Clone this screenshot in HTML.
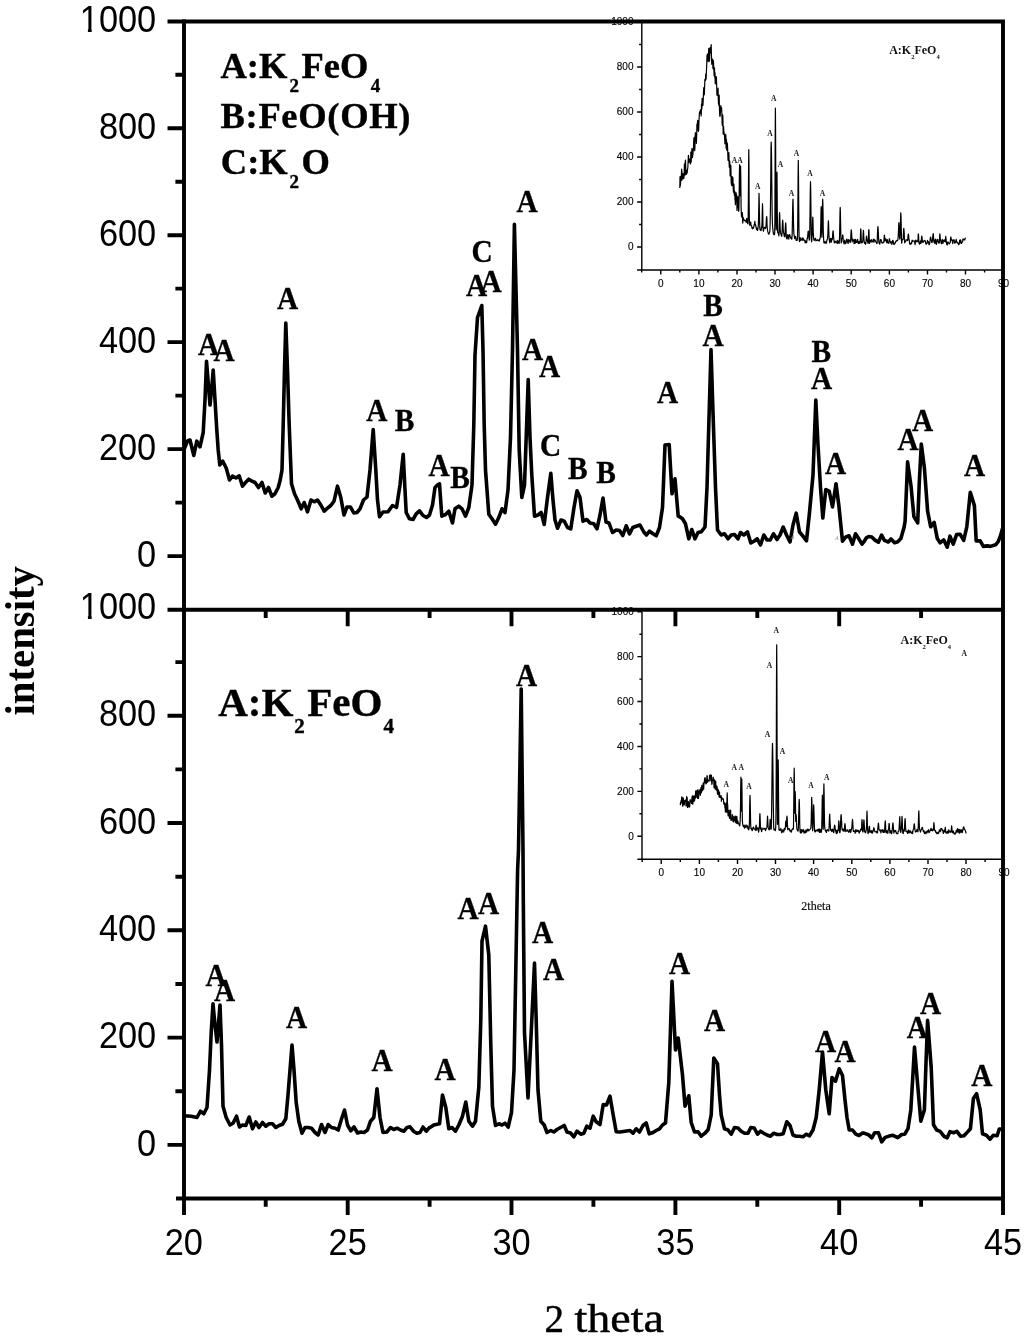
<!DOCTYPE html>
<html lang="en"><head><meta charset="utf-8"><title>XRD patterns</title>
<style>html,body{margin:0;padding:0;background:#fff}svg{display:block}.sans{font-family:"Liberation Sans",Arial,sans-serif}.serif{font-family:"Liberation Serif","Times New Roman",serif}.b{font-weight:bold}</style></head><body>
<svg width="1024" height="1337" viewBox="0 0 1024 1337">
<rect width="1024" height="1337" fill="#fff"/>
<g stroke="#000" stroke-width="1.4" fill="none">
<path d="M641.8 22V270H1003"/>
<path d="M637.1 247H641.8M639.1 224.5H641.8M637.1 202H641.8M639.1 179.5H641.8M637.1 157H641.8M639.1 134.5H641.8M637.1 112H641.8M639.1 89.5H641.8M637.1 67H641.8M639.1 44.5H641.8M637.1 22H641.8M637.1 270H641.8M641.7 270V272.6M660.8 270V274.6M679.8 270V272.6M698.9 270V274.6M717.9 270V272.6M737 270V274.6M756 270V272.6M775 270V274.6M794.1 270V272.6M813.1 270V274.6M832.2 270V272.6M851.2 270V274.6M870.3 270V272.6M889.4 270V274.6M908.4 270V272.6M927.5 270V274.6M946.5 270V272.6M965.5 270V274.6M984.6 270V272.6M1003.6 270V274.6"/>
</g>
<g class="sans" font-size="10" fill="#000" stroke="#000" stroke-width="0.12">
<text x="633.5" y="250.4" text-anchor="end">0</text>
<text x="633.5" y="205.4" text-anchor="end">200</text>
<text x="633.5" y="160.4" text-anchor="end">400</text>
<text x="633.5" y="115.4" text-anchor="end">600</text>
<text x="633.5" y="70.4" text-anchor="end">800</text>
<text x="633.5" y="25.4" text-anchor="end">1000</text>
<text x="660.8" y="287" text-anchor="middle">0</text>
<text x="698.9" y="287" text-anchor="middle">10</text>
<text x="737" y="287" text-anchor="middle">20</text>
<text x="775" y="287" text-anchor="middle">30</text>
<text x="813.1" y="287" text-anchor="middle">40</text>
<text x="851.2" y="287" text-anchor="middle">50</text>
<text x="889.4" y="287" text-anchor="middle">60</text>
<text x="927.5" y="287" text-anchor="middle">70</text>
<text x="965.5" y="287" text-anchor="middle">80</text>
<text x="1003.6" y="287" text-anchor="middle">90</text>
</g>
<path d="M679.8 188.1L680 177.2L680.2 176.3L680.4 185.6L680.6 181.1L680.8 179.4L680.9 180.6L681.1 180.8L681.3 178L681.5 172.4L681.7 169.2L681.9 171.7L682.1 179.9L682.3 174.8L682.5 174.2L682.7 178.1L682.8 174.6L683 173.7L683.2 175.3L683.4 177.7L683.6 178.7L683.8 178.4L684 177.5L684.2 172.6L684.4 163.9L684.6 168.5L684.8 172.2L684.9 175.2L685.1 166.6L685.3 161.5L685.5 160.1L685.7 166.3L685.9 171.1L686.1 174.4L686.3 173.4L686.5 173.3L686.7 174L686.8 170.5L687 170L687.2 172.6L687.4 170.3L687.6 168.9L687.8 168.2L688 163.9L688.2 159.7L688.4 155.4L688.6 156.6L688.8 159L688.9 162.5L689.1 162.1L689.3 160.9L689.5 159.1L689.7 160.4L689.9 161.1L690.1 161.1L690.3 163.9L690.5 163.8L690.7 160.7L690.8 152L691 152.4L691.2 162.1L691.4 157.1L691.6 153.6L691.8 151.6L692 148.3L692.2 150.3L692.4 157.6L692.6 156.1L692.8 155L692.9 154.4L693.1 151.8L693.3 149.7L693.5 148.3L693.7 141.3L693.9 138L694.1 138.4L694.3 137.3L694.5 141.4L694.7 150.7L694.8 149.7L695 144.7L695.2 135.7L695.4 132.6L695.6 133.2L695.8 137.4L696 135.2L696.2 137.1L696.4 143.3L696.6 137.8L696.8 131.3L696.9 124L697.1 124.4L697.3 124L697.5 122.6L697.7 120.3L697.9 123L698.1 130.7L698.3 131.4L698.5 131L698.7 129.5L698.9 124.1L699 120L699.2 117.1L699.4 113L699.6 111.8L699.8 113.5L700 113.5L700.2 112.2L700.4 109.9L700.6 112.6L700.8 112.9L700.9 110.8L701.1 116L701.3 113.7L701.5 103.8L701.7 109.4L701.9 107.6L702.1 98.4L702.3 100.8L702.5 102.7L702.7 105.1L702.9 105.5L703 104.1L703.2 100.8L703.4 94.5L703.6 90.1L703.8 87.6L704 92.9L704.2 94.9L704.4 93.7L704.6 86.5L704.8 81.7L704.9 79.3L705.1 79.9L705.3 80.3L705.5 80.6L705.7 74.3L705.9 73.9L706.1 79.2L706.3 74L706.5 69.6L706.7 65.9L706.9 58.2L707 55.4L707.2 57.4L707.4 53.9L707.6 54.3L707.8 58.6L708 60.9L708.2 61.6L708.4 60.8L708.6 51.6L708.8 48.3L708.9 50.7L709.1 54.9L709.3 58.3L709.5 61.1L709.7 54.8L709.9 50.2L710.1 47.5L710.3 49.9L710.5 51.8L710.7 53.1L710.9 49.4L711 46.6L711.2 44.7L711.4 54.3L711.6 60.8L711.8 64.3L712 61.9L712.2 60.8L712.4 61L712.6 59L712.8 61.6L712.9 68.6L713.1 62.6L713.3 60.5L713.5 62.4L713.7 66.4L713.9 70.8L714.1 75.6L714.3 67.6L714.5 68.2L714.7 77.3L714.9 72.4L715 74.1L715.2 82.4L715.4 83.8L715.6 81.9L715.8 76.6L716 83.5L716.2 83.6L716.4 76.9L716.6 83.7L716.8 89.5L716.9 94.4L717.1 95.3L717.3 95.1L717.5 94L717.7 92.3L717.9 90.4L718.1 88.2L718.3 99.1L718.5 103.7L718.7 101.9L718.9 105.4L719 103.1L719.2 95.2L719.4 106.5L719.6 113.2L719.8 115.6L720 116.5L720.2 115.4L720.4 112.5L720.6 107.4L720.8 105.5L720.9 106.7L721.1 109.5L721.3 109.8L721.5 107.7L721.7 109.5L721.9 114.5L722.1 122.7L722.3 125.5L722.5 122.8L722.7 114.8L722.9 118.1L723 124.6L723.2 134.2L723.4 127.6L723.6 126.5L723.8 130.9L724 132L724.2 133.3L724.4 134.8L724.6 137.8L724.8 140.8L724.9 143.8L725.1 141.5L725.3 140.4L725.5 140.5L725.7 134.3L725.9 136.7L726.1 147.9L726.3 139.1L726.5 139.9L726.7 150.2L726.9 149.7L727 147.3L727.2 142.9L727.4 144.2L727.6 147.8L727.8 153.7L728 159.6L728.2 160.6L728.4 156.8L728.6 159.2L728.8 157.8L728.9 152.5L729.1 162.5L729.3 167.1L729.5 166.3L729.7 161.2L729.9 164.3L730.1 175.9L730.3 172.4L730.5 168.9L730.7 165.2L730.9 166.9L731 172.7L731.2 182.6L731.4 183.8L731.6 184.8L731.8 185.6L732 176.5L732.2 176.5L732.4 185.6L732.6 180.9L732.8 178.2L732.9 177.5L733.1 185.4L733.3 190.3L733.5 192.2L733.7 185.1L733.9 184.2L734.1 189.5L734.3 194.9L734.5 195.4L734.7 191.1L734.9 196.5L735 199.7L735.2 200.8L735.4 204.6L735.6 202.3L735.8 193.9L736 192.5L736.2 193.8L736.4 197.8L736.6 194.6L736.8 198.9L737 210.5L737.1 208.5L737.3 206.4L737.5 204.1L737.7 198.9L737.9 196.6L738.1 197.2L738.3 204.6L738.5 209.4L738.7 211.3L738.9 209L739 204.3L739.2 192.7L739.4 173.2L739.6 164.7L739.8 178.4L740 193.7L740.2 195.8L740.4 177.5L740.6 166.1L740.8 177.9L741 197.6L741.1 206.9L741.3 212.3L741.5 216.4L741.7 217L741.9 217.2L742.1 217.1L742.3 212.5L742.5 214.4L742.7 223.1L742.9 221.9L743 217.3L743.2 217.3L743.4 218.2L743.6 219.1L743.8 219.7L744 220L744.2 220.4L744.4 220.3L744.6 220.2L744.8 220.3L745 220.6L745.1 221L745.3 220.8L745.5 220.4L745.7 220.4L745.9 221.4L746.1 222.4L746.3 221.8L746.5 220.1L746.7 218.4L746.9 219.3L747 220.1L747.2 221.1L747.4 222.3L747.6 223.6L747.8 223.7L748 222.5L748.2 216.2L748.4 196.3L748.6 165.9L748.8 149.5L749 166.2L749.1 196.9L749.3 217.3L749.5 224.3L749.7 225.3L749.9 223.9L750.1 222.5L750.3 222.1L750.5 222L750.7 222.1L750.9 223.5L751 224.9L751.2 225.5L751.4 225.7L751.6 225.8L751.8 226.9L752 228L752.2 228.7L752.4 228.7L752.6 228.8L752.8 228.4L753 227.9L753.1 227.5L753.3 227.8L753.5 228L753.7 227.4L753.9 226.1L754.1 224.6L754.3 225.1L754.5 224.3L754.7 222.4L754.9 221.3L755 223.1L755.2 224.6L755.4 224.9L755.6 224.5L755.8 225.8L756 226.9L756.2 227.9L756.4 228.8L756.6 229.7L756.8 228.9L757 228L757.1 228L757.3 229.2L757.5 230.5L757.7 229.8L757.9 228.7L758.1 227.5L758.3 225.3L758.5 220L758.7 211.6L758.9 199.2L759 193.3L759.2 199.6L759.4 212.4L759.6 222L759.8 227.4L760 229.6L760.2 229.9L760.4 229.8L760.6 229.7L760.8 230.2L761 230.7L761.1 230.2L761.3 228.8L761.5 227.5L761.7 227.7L761.9 226.2L762.1 220L762.3 209.5L762.5 203.6L762.7 209.6L762.9 220.5L763 228.1L763.2 230.5L763.4 231.2L763.6 230.6L763.8 229.3L764 228.1L764.2 227.7L764.4 227.4L764.6 227.3L764.8 227.7L765 228.1L765.1 228.3L765.3 228.4L765.5 228.5L765.7 228.1L765.9 227L766.1 224.7L766.3 220.9L766.5 217.8L766.7 216.5L766.9 218.8L767 224L767.2 227.5L767.4 229.4L767.6 230.7L767.8 231.5L768 232.1L768.2 232.9L768.4 233.7L768.6 234.1L768.8 234.1L769 234.2L769.1 233.6L769.3 233.1L769.5 232.6L769.7 232L769.9 230.2L770.1 225.1L770.3 216L770.5 202L770.7 183.3L770.9 163.1L771 147.6L771.2 142L771.4 148.6L771.6 164L771.8 183.6L772 201.9L772.2 215.6L772.4 222.4L772.6 226.8L772.8 228.8L773 229.9L773.1 231.5L773.3 233L773.5 233.8L773.7 234.2L773.9 234.6L774.1 234.6L774.3 234.6L774.5 234.5L774.7 232.7L774.9 221.2L775 188.5L775.2 136.4L775.4 108.1L775.6 136.1L775.8 187.9L776 220.4L776.2 229.8L776.4 225.2L776.6 210.8L776.8 185.6L777 172.1L777.1 186.2L777.3 211.9L777.5 227.7L777.7 232.5L777.9 233.1L778.1 232.9L778.3 232.7L778.5 233.5L778.7 235.1L778.9 236L779.1 232L779.2 224.8L779.4 216.6L779.6 212.6L779.8 216.2L780 224.2L780.2 229.3L780.4 232.4L780.6 233.3L780.8 233.5L781 234L781.1 234.7L781.3 235.3L781.5 236L781.7 236.3L781.9 235L782.1 230.8L782.3 225.9L782.5 221.6L782.7 220.1L782.9 222.4L783.1 226.6L783.2 229.9L783.4 232.1L783.6 233L783.8 233.1L784 234.5L784.2 235.9L784.4 236.7L784.6 236.8L784.8 236.7L785 235.3L785.1 232.5L785.3 227.9L785.5 224.9L785.7 222.8L785.9 225.5L786.1 231.3L786.3 236.3L786.5 238.1L786.7 238.7L786.9 238.9L787.1 238.9L787.2 238.8L787.4 237.5L787.6 235.9L787.8 234.6L788 234.9L788.2 235.1L788.4 236.1L788.6 237.7L788.8 239.2L789 237.7L789.1 236.2L789.3 235.2L789.5 234.9L789.7 234.6L789.9 235.2L790.1 235.9L790.3 236.7L790.5 237.4L790.7 238.2L790.9 238.2L791.1 237.8L791.2 237.4L791.4 238.3L791.6 239.1L791.8 239.1L792 237.3L792.2 233L792.4 222.9L792.6 211.9L792.8 202.3L793 199L793.1 203L793.3 212.2L793.5 222.5L793.7 230.4L793.9 234.1L794.1 235.3L794.3 236L794.5 237.4L794.7 238.6L794.9 238.1L795.1 237.2L795.2 236.4L795.4 236.6L795.6 236.7L795.8 237.6L796 239.1L796.2 240.5L796.4 240.4L796.6 240.4L796.8 240.3L797 240.3L797.1 240.2L797.3 239.8L797.5 237.1L797.7 226.3L797.9 203.5L798.1 174.4L798.3 160.3L798.5 174.8L798.7 204L798.9 226.4L799.1 236.7L799.2 239.6L799.4 240.8L799.6 241.6L799.8 240.4L800 238.6L800.2 237.5L800.4 238.8L800.6 240.1L800.8 240.5L801 240.3L801.1 240.1L801.3 239.9L801.5 239.7L801.7 239.2L801.9 238.5L802.1 237.8L802.3 238.6L802.5 239.6L802.7 240.3L802.9 239.2L803.1 238.1L803.2 238.2L803.4 239.1L803.6 240.1L803.8 240L804 240L804.2 239.9L804.4 240L804.6 240L804.8 240.9L805 242L805.1 242.8L805.3 241.8L805.5 240.9L805.7 240.9L805.9 241.5L806.1 242L806.3 242.4L806.5 242.8L806.7 242.3L806.9 240.4L807.1 238.3L807.2 238.3L807.4 238.4L807.6 237.5L807.8 234.7L808 232.3L808.2 231.2L808.4 231.2L808.6 232.3L808.8 234.8L809 237.1L809.1 238.9L809.3 240.1L809.5 239.3L809.7 234.4L809.9 223.3L810.1 206.4L810.3 189.2L810.5 181.6L810.7 189L810.9 206L811.1 222.6L811.2 233.7L811.4 239.8L811.6 241.8L811.8 240.5L812 237.6L812.2 233.7L812.4 227L812.6 220.2L812.8 217.2L813 220.2L813.1 226.9L813.3 233L813.5 236.2L813.7 238.7L813.9 239.9L814.1 240.3L814.3 240.3L814.5 240.1L814.7 239.8L814.9 239.3L815.1 238.9L815.2 238.6L815.4 238.2L815.6 238.7L815.8 239.8L816 240.9L816.2 240.5L816.4 240.1L816.6 240L816.8 240.2L817 240.5L817.2 240.5L817.3 240.5L817.5 240.4L817.7 240L817.9 239.6L818.1 239.8L818.3 240.4L818.5 240.9L818.7 240.7L818.9 240.6L819.1 240.5L819.2 240.6L819.4 240.8L819.6 240L819.8 238.9L820 238.1L820.2 238.1L820.4 236.6L820.6 231.2L820.8 222.3L821 211.5L821.2 206.7L821.3 211.4L821.5 222.3L821.7 232.3L821.9 237.2L822.1 229.1L822.3 217.1L822.5 204.8L822.7 199.2L822.9 204.1L823.1 216.1L823.2 227.9L823.4 234.2L823.6 239.1L823.8 241.7L824 242.9L824.2 243L824.4 243L824.6 242.5L824.8 241.8L825 241.4L825.2 242.2L825.3 243L825.5 243.2L825.7 242.8L825.9 242.4L826.1 242.8L826.3 243.2L826.5 242.9L826.7 241.5L826.9 240.2L827.1 239.7L827.2 239.5L827.4 239.1L827.6 238.1L827.8 235.2L828 230.9L828.2 223.9L828.4 220.8L828.6 224.1L828.8 231.2L829 236.2L829.2 239L829.3 239.9L829.5 241L829.7 242.2L829.9 242.8L830.1 241.1L830.3 239.5L830.5 238.7L830.7 238.5L830.9 238.3L831.1 240L831.2 241.7L831.4 242.1L831.6 240.4L831.8 238.7L832 239.1L832.2 239.6L832.4 238.8L832.6 235.8L832.8 232.7L833 231L833.2 230.8L833.3 232.6L833.5 235.8L833.7 237.9L833.9 239.5L834.1 241.3L834.3 242.9L834.5 242.7L834.7 242.1L834.9 241.6L835.1 241.4L835.2 241.2L835.4 241.4L835.6 241.8L835.8 242.2L836 242.5L836.2 242.8L836.4 242.9L836.6 242.7L836.8 242.4L837 241.6L837.2 240.7L837.3 240.3L837.5 241.9L837.7 243.5L837.9 243.4L838.1 242.2L838.3 241L838.5 241.3L838.7 241.5L838.9 242.1L839.1 242.9L839.2 243.3L839.4 240.9L839.6 234.7L839.8 223.7L840 212.6L840.2 207.4L840.4 212.3L840.6 223.2L840.8 233.1L841 239.6L841.2 242.7L841.3 243L841.5 241L841.7 238.9L841.9 238.8L842.1 238.8L842.3 238.3L842.5 236.6L842.7 234.9L842.9 235.3L843.1 237.8L843.2 241.1L843.4 242L843.6 242.5L843.8 242.8L844 243.4L844.2 244L844.4 242.8L844.6 241.1L844.8 240L845 241.1L845.2 242.3L845.3 242.9L845.5 243.3L845.7 243.6L845.9 242.9L846.1 242.3L846.3 241.4L846.5 240.3L846.7 239.2L846.9 239.2L847.1 239.4L847.2 239.8L847.4 241.1L847.6 242.3L847.8 243L848 243.2L848.2 243.5L848.4 241.7L848.6 240L848.8 239.3L849 240.1L849.2 240.9L849.3 240.8L849.5 240.5L849.7 240.5L849.9 241.6L850.1 242.6L850.3 242.2L850.5 240.6L850.7 238.4L850.9 234.3L851.1 230.9L851.2 229.8L851.4 230.9L851.6 233.4L851.8 236.9L852 240L852.2 241.9L852.4 240.9L852.6 239.4L852.8 239.2L853 240L853.2 240.7L853.3 240.3L853.5 239.9L853.7 240.3L853.9 241.9L854.1 243.6L854.3 242.5L854.5 240.8L854.7 239.7L854.9 241.5L855.1 243.3L855.3 242.9L855.4 241.1L855.6 239.3L855.8 240.3L856 241.2L856.2 241.8L856.4 242.1L856.6 242.4L856.8 242L857 241.5L857.2 241L857.3 240.2L857.5 239.3L857.7 239.9L857.9 241.3L858.1 242.8L858.3 243.1L858.5 243.5L858.7 243.3L858.9 242.4L859.1 241.5L859.3 241.8L859.4 242.5L859.6 243.1L859.8 243.3L860 243.1L860.2 241.4L860.4 237.4L860.6 231.1L860.8 228.8L861 231.3L861.2 237.8L861.3 241.3L861.5 242.7L861.7 242.9L861.9 242.8L862.1 242.6L862.3 242.6L862.5 242.6L862.7 241.5L862.9 239.1L863.1 234.8L863.3 232L863.4 230.4L863.6 232.6L863.8 236.9L864 239.7L864.2 241.6L864.4 242.7L864.6 243.3L864.8 242.9L865 242.6L865.2 242.9L865.3 243.6L865.5 244.3L865.7 243.8L865.9 242.8L866.1 240.8L866.3 237.8L866.5 236.2L866.7 237.2L866.9 239.1L867.1 239.7L867.3 240.6L867.4 241.1L867.6 241.7L867.8 242.5L868 243.3L868.2 242L868.4 238.7L868.6 232.9L868.8 229.6L869 230.8L869.2 237.2L869.3 241.6L869.5 243.4L869.7 241.9L869.9 240.3L870.1 240.2L870.3 241.1L870.5 241.9L870.7 241.8L870.9 241.7L871.1 241.3L871.3 240.5L871.4 239.7L871.6 240.4L871.8 241.4L872 242.1L872.2 241.9L872.4 241.6L872.6 241.3L872.8 240.9L873 240.5L873.2 239.8L873.3 239.1L873.5 239.3L873.7 240.8L873.9 242.2L874.1 241.6L874.3 240.5L874.5 239.7L874.7 240L874.9 240.2L875.1 240.5L875.3 240.6L875.4 240.8L875.6 241.3L875.8 241.8L876 242.2L876.2 242.3L876.4 242.4L876.6 243L876.8 243.5L877 243.6L877.2 242.2L877.3 239.2L877.5 233.2L877.7 228.6L877.9 226.6L878.1 228.1L878.3 232.1L878.5 236L878.7 239.9L878.9 242.3L879.1 243.1L879.3 243.4L879.4 243.6L879.6 243.8L879.8 244L880 243L880.2 241.3L880.4 239.6L880.6 239.5L880.8 239.5L881 239.6L881.2 240.1L881.3 240.5L881.5 241.3L881.7 242.2L881.9 242.9L882.1 243L882.3 243.1L882.5 243L882.7 242.9L882.9 242.8L883.1 242.4L883.3 242.1L883.4 242.1L883.6 242.5L883.8 242.3L884 239.9L884.2 236.7L884.4 235L884.6 236.7L884.8 239.7L885 240.9L885.2 240.2L885.3 238.9L885.5 238.9L885.7 238.9L885.9 239.2L886.1 240.2L886.3 241.2L886.5 241.9L886.7 242.6L886.9 242.8L887.1 241.2L887.3 239.6L887.4 239.8L887.6 241.3L887.8 242.7L888 242.6L888.2 242.5L888.4 242.7L888.6 243.2L888.8 243.3L889 241.8L889.2 239.8L889.4 238.7L889.5 238.9L889.7 239.8L889.9 240.7L890.1 241.3L890.3 241.5L890.5 242.3L890.7 243L890.9 243.1L891.1 242.4L891.3 241.8L891.4 242.5L891.6 243.6L891.8 244.4L892 243.7L892.2 242.6L892.4 241.6L892.6 240.7L892.8 240.4L893 240.4L893.2 241L893.4 242L893.5 243.2L893.7 244.2L893.9 244.4L894.1 244.4L894.3 244.3L894.5 243.7L894.7 243.1L894.9 242.9L895.1 243.1L895.3 243.2L895.4 242.4L895.6 241.7L895.8 241.2L896 241.4L896.2 241.5L896.4 241.1L896.6 240.6L896.8 240.3L897 240.5L897.2 240.7L897.4 240.7L897.5 240.5L897.7 240.3L897.9 239.4L898.1 237.5L898.3 234.2L898.5 230.2L898.7 224.9L898.9 222.6L899.1 225.1L899.3 230.7L899.4 235.3L899.6 237.3L899.8 239.1L900 238.7L900.2 235.4L900.4 225.5L900.6 216.7L900.8 212.8L901 216.5L901.2 224.9L901.4 233.6L901.5 240.1L901.7 243.1L901.9 242L902.1 240.4L902.3 239.7L902.5 239.5L902.7 239.3L902.9 239.6L903.1 239.2L903.3 237.2L903.4 233.3L903.6 230.1L903.8 228.4L904 230L904.2 232.8L904.4 238L904.6 241.8L904.8 242.9L905 242.4L905.2 241.6L905.4 241.6L905.5 241.7L905.7 241.4L905.9 240.7L906.1 239.9L906.3 239.8L906.5 239.9L906.7 239.9L906.9 239.9L907.1 239.8L907.3 240.1L907.4 240.5L907.6 240.6L907.8 238.8L908 236.4L908.2 234.4L908.4 234.1L908.6 235.4L908.8 237.2L909 238.9L909.2 240.2L909.4 241.7L909.5 242.9L909.7 243.6L909.9 244L910.1 244.5L910.3 244.3L910.5 244L910.7 243.7L910.9 243.2L911.1 242.7L911.3 243L911.4 243.6L911.6 243.7L911.8 242.1L912 240.5L912.2 240.2L912.4 240.8L912.6 241.4L912.8 241.3L913 241.1L913.2 241L913.4 241L913.5 241L913.7 240.9L913.9 240.8L914.1 240.8L914.3 241.2L914.5 241.7L914.7 242.5L914.9 243.6L915.1 244.7L915.3 242.9L915.4 241.1L915.6 240.1L915.8 240.2L916 240.3L916.2 240.8L916.4 241.3L916.6 241.8L916.8 241.7L917 241.6L917.2 241.4L917.4 241.1L917.5 240.8L917.7 241.7L917.9 241.1L918.1 237.6L918.3 233.9L918.5 234.6L918.7 238.9L918.9 241.9L919.1 243.3L919.3 243.7L919.4 244.1L919.6 244L919.8 243.6L920 243.2L920.2 242.1L920.4 241.1L920.6 240.9L920.8 242.1L921 243.3L921.2 242.3L921.4 240.3L921.5 237.5L921.7 236L921.9 236.4L922.1 238.6L922.3 240.5L922.5 241.8L922.7 242.1L922.9 242.4L923.1 242.4L923.3 242.2L923.4 242L923.6 241.6L923.8 241.1L924 240.7L924.2 240.5L924.4 240.3L924.6 240.5L924.8 240.8L925 241.1L925.2 241.1L925.4 241L925.5 241.5L925.7 242.8L925.9 244.1L926.1 244.2L926.3 244L926.5 243.9L926.7 243.6L926.9 243.4L927.1 242.6L927.3 241.5L927.5 240.4L927.6 241.4L927.8 242.4L928 242.8L928.2 242.2L928.4 241.6L928.6 242.5L928.8 243.7L929 244.7L929.2 244.6L929.4 244.4L929.5 244L929.7 243.2L929.9 242.1L930.1 240.1L930.3 238L930.5 237L930.7 237.4L930.9 238.5L931.1 239.6L931.3 240.4L931.5 240.9L931.6 241.9L931.8 242.7L932 242.6L932.2 241.6L932.4 240.1L932.6 238.5L932.8 236.4L933 234.5L933.2 233.7L933.4 234.5L933.5 237.1L933.7 240.1L933.9 242.1L934.1 241.3L934.3 240.1L934.5 240.5L934.7 242.1L934.9 243.6L935.1 241.9L935.3 240.1L935.5 239.1L935.6 239.2L935.8 239.3L936 241L936.2 243.1L936.4 244.5L936.6 243.5L936.8 242.5L937 241.6L937.2 240.8L937.4 240L937.5 239.7L937.7 239.4L937.9 239.6L938.1 240.8L938.3 242L938.5 242.5L938.7 242.9L938.9 243.2L939.1 243.2L939.3 242.9L939.5 240.8L939.6 237.4L939.8 233.9L940 234.8L940.2 237.2L940.4 239.7L940.6 240.6L940.8 240.9L941 242L941.2 243.2L941.4 243.8L941.5 243L941.7 242.1L941.9 241.2L942.1 240.2L942.3 239.3L942.5 241.1L942.7 243L942.9 243.5L943.1 241.9L943.3 240.4L943.5 240.6L943.6 241.3L943.8 241.7L944 240.9L944.2 240L944.4 239.9L944.6 240.3L944.8 240.6L945 241.4L945.2 241.9L945.4 240.9L945.5 238.4L945.7 236.4L945.9 237.3L946.1 239.3L946.3 241.2L946.5 242.9L946.7 244.2L946.9 244.7L947.1 244.8L947.3 244.9L947.5 243.8L947.6 242.7L947.8 242L948 242.1L948.2 242.2L948.4 242.5L948.6 242.8L948.8 243.2L949 243.6L949.2 243.9L949.4 243.8L949.5 243.3L949.7 242.9L949.9 242.9L950.1 242.8L950.3 242L950.5 239.9L950.7 237.3L950.9 237L951.1 238.3L951.3 240.1L951.5 239.9L951.6 239.7L951.8 239.8L952 240L952.2 240L952.4 241.6L952.6 243.2L952.8 243.5L953 241.7L953.2 239.9L953.4 239.9L953.5 240.4L953.7 240.7L953.9 240.2L954.1 239.8L954.3 240.5L954.5 241.8L954.7 243.2L954.9 243L955.1 242.9L955.3 242.7L955.5 242.7L955.6 242.6L955.8 241.5L956 240.2L956.2 239.3L956.4 240.2L956.6 241.1L956.8 241.8L957 242.3L957.2 242.8L957.4 242.7L957.5 242.5L957.7 242.6L957.9 242.9L958.1 243.3L958.3 243.7L958.5 244.2L958.7 244.6L958.9 244.5L959.1 244.4L959.3 243.4L959.5 241.7L959.6 240.1L959.8 241.3L960 242.5L960.2 242.7L960.4 241.2L960.6 239.8L960.8 240.7L961 242.3L961.2 243.5L961.4 243.4L961.5 243.4L961.7 243.1L961.9 242.5L962.1 241.8L962.3 242L962.5 241.6L962.7 240.4L962.9 239.2L963.1 239.5L963.3 239.9L963.5 239.7L963.6 239.2L963.8 239.5L964 239.7L964.2 239.9L964.4 240L964.6 240L964.8 239.8L965 238.9L965.2 238.1L965.4 238.2L965.5 238.9" fill="none" stroke="#000" stroke-width="1.2" stroke-linejoin="round"/>
<g class="serif b" font-size="7.6" fill="#222" text-anchor="middle">
<text x="773.8" y="100.6">A</text>
<text x="770" y="135.6">A</text>
<text x="734.5" y="163.1">A</text>
<text x="740" y="163.1">A</text>
<text x="757.8" y="188.8">A</text>
<text x="780.5" y="167.1">A</text>
<text x="796.5" y="155.8">A</text>
<text x="810" y="175.6">A</text>
<text x="791.5" y="195.8">A</text>
<text x="822.5" y="195.8">A</text>
</g>
<text class="serif b" font-size="12" fill="#111" x="889.2" y="54.3">A:K<tspan font-size="6.5" dy="4.5">2</tspan><tspan dy="-4.5">FeO</tspan><tspan font-size="6.5" dy="4.5">4</tspan></text>
<g stroke="#000" stroke-width="1.4" fill="none">
<path d="M642 611.8V859.2H1003"/>
<path d="M637.4 836.2H642M639.4 813.8H642M637.4 791.4H642M639.4 768.9H642M637.4 746.5H642M639.4 724H642M637.4 701.5H642M639.4 679.1H642M637.4 656.6H642M639.4 634.2H642M637.4 611.8H642M637.4 859.2H642M642.2 859.2V861.9M661.2 859.2V863.9M680.3 859.2V861.9M699.4 859.2V863.9M718.4 859.2V861.9M737.5 859.2V863.9M756.5 859.2V861.9M775.5 859.2V863.9M794.6 859.2V861.9M813.6 859.2V863.9M832.7 859.2V861.9M851.8 859.2V863.9M870.8 859.2V861.9M889.9 859.2V863.9M908.9 859.2V861.9M928 859.2V863.9M947 859.2V861.9M966 859.2V863.9M985.1 859.2V861.9M1004.1 859.2V863.9"/>
</g>
<g class="sans" font-size="10" fill="#000" stroke="#000" stroke-width="0.12">
<text x="633.8" y="839.6" text-anchor="end">0</text>
<text x="633.8" y="794.8" text-anchor="end">200</text>
<text x="633.8" y="749.9" text-anchor="end">400</text>
<text x="633.8" y="704.9" text-anchor="end">600</text>
<text x="633.8" y="660" text-anchor="end">800</text>
<text x="633.8" y="615.1" text-anchor="end">1000</text>
<text x="661.2" y="876.2" text-anchor="middle">0</text>
<text x="699.4" y="876.2" text-anchor="middle">10</text>
<text x="737.5" y="876.2" text-anchor="middle">20</text>
<text x="775.5" y="876.2" text-anchor="middle">30</text>
<text x="813.6" y="876.2" text-anchor="middle">40</text>
<text x="851.8" y="876.2" text-anchor="middle">50</text>
<text x="889.9" y="876.2" text-anchor="middle">60</text>
<text x="928" y="876.2" text-anchor="middle">70</text>
<text x="966" y="876.2" text-anchor="middle">80</text>
<text x="1004.1" y="876.2" text-anchor="middle">90</text>
</g>
<path d="M680.3 805.3L680.5 802.8L680.7 802.2L680.9 803.5L681.1 800.7L681.3 800.2L681.4 802.1L681.6 798.5L681.8 796.9L682 797.2L682.2 798.9L682.4 801.7L682.6 805.5L682.8 806.5L683 803.9L683.2 797.8L683.3 798.7L683.5 799.7L683.7 800.9L683.9 803L684.1 804.4L684.3 805L684.5 801.8L684.7 800.7L684.9 801.6L685.1 801.4L685.3 801.1L685.4 800.8L685.6 799.8L685.8 801.5L686 805.9L686.2 805.5L686.4 802.4L686.6 796.7L686.8 797.2L687 797.5L687.2 797.8L687.3 804.3L687.5 807.5L687.7 807.3L687.9 805.7L688.1 804.3L688.3 803.1L688.5 801.5L688.7 802.8L688.9 806.8L689.1 803.4L689.3 803.5L689.4 807.1L689.6 807L689.8 804.7L690 799.9L690.2 800.7L690.4 800.7L690.6 799.9L690.8 801.7L691 802.1L691.2 801.1L691.3 803L691.5 803.4L691.7 802.2L691.9 798.9L692.1 796.7L692.3 795.8L692.5 801.6L692.7 804.2L692.9 803.7L693.1 798.1L693.3 796L693.4 797.3L693.6 796L693.8 797.4L694 801.5L694.2 799.7L694.4 799.3L694.6 800.5L694.8 796L695 795.4L695.2 798.6L695.3 796.2L695.5 793.6L695.7 790.8L695.9 795.8L696.1 797.4L696.3 795.5L696.5 793.7L696.7 792.1L696.9 790.6L697.1 794.2L697.3 796.2L697.4 796.5L697.6 798.3L697.8 796L698 789.6L698.2 795.5L698.4 798.3L698.6 798L698.8 793.9L699 792L699.2 792.3L699.4 790.5L699.5 790.9L699.7 793.6L699.9 789.6L700.1 790.1L700.3 795.3L700.5 793.9L700.7 791.3L700.9 787.5L701.1 791.7L701.3 792.8L701.4 790.7L701.6 787.2L701.8 785.3L702 785.3L702.2 788.2L702.4 790L702.6 790.8L702.8 788.8L703 786.2L703.2 783L703.4 785.5L703.5 787.6L703.7 789.2L703.9 784.3L704.1 782.2L704.3 783L704.5 780L704.7 778.2L704.9 777.8L705.1 777.7L705.3 779.4L705.4 782.9L705.6 779.9L705.8 780.2L706 783.9L706.2 783.6L706.4 783L706.6 782.2L706.8 777.8L707 775.7L707.2 775.8L707.4 780.6L707.5 782.5L707.7 781.4L707.9 781.2L708.1 781L708.3 780.8L708.5 780.4L708.7 780.1L708.9 779.9L709.1 781.2L709.3 780.4L709.4 777.3L709.6 775.3L709.8 775.2L710 777L710.2 774.9L710.4 775.1L710.6 777.4L710.8 780.7L711 780.1L711.2 775.9L711.4 775.2L711.5 777.3L711.7 782.2L711.9 784.4L712.1 783.7L712.3 780.1L712.5 780.2L712.7 780.2L712.9 780.3L713.1 777.4L713.3 777.3L713.4 780L713.6 779.1L713.8 781.6L714 787.6L714.2 784.1L714.4 781.5L714.6 779.9L714.8 785.6L715 788.6L715.2 789.1L715.4 784.6L715.5 781.9L715.7 781.2L715.9 788L716.1 789.6L716.3 785.8L716.5 790.2L716.7 790.3L716.9 786.1L717.1 787.4L717.3 789.9L717.4 793.5L717.6 794.3L717.8 792.8L718 789L718.2 791.5L718.4 792L718.6 790.6L718.8 794L719 796.2L719.2 797.2L719.4 792.8L719.5 792L719.7 794.9L719.9 796.8L720.1 797.7L720.3 797.7L720.5 796.6L720.7 796.3L720.9 796.8L721.1 795.5L721.3 797L721.4 801.3L721.6 798.4L721.8 797.8L722 799.4L722.2 798.3L722.4 798.1L722.6 798.8L722.8 799L723 799L723.2 799L723.4 798.8L723.5 800.1L723.7 802.9L723.9 804.2L724.1 804.3L724.3 803.2L724.5 802.8L724.7 804.3L724.9 807.6L725.1 808L725.3 809.4L725.4 811.9L725.6 807.6L725.8 804.7L726 803.1L726.2 808.2L726.4 811.5L726.6 812.4L726.8 808.2L727 798L727.2 792.8L727.4 798.2L727.5 805.4L727.7 804.5L727.9 812.8L728.1 815.8L728.3 814.1L728.5 815.9L728.7 814.8L728.9 810.9L729.1 810.2L729.3 812.2L729.4 817.1L729.6 818.3L729.8 817.4L730 814.6L730.2 813.9L730.4 812.4L730.6 810.1L730.8 817.1L731 820.5L731.2 820.2L731.4 819.9L731.5 819.7L731.7 819.7L731.9 819.8L732.1 818.1L732.3 814.6L732.5 815.8L732.7 817.9L732.9 821L733.1 821.5L733.3 821.5L733.4 820.9L733.6 822L733.8 820.3L734 816L734.2 819.6L734.4 820.7L734.6 819L734.8 817.1L735 817.6L735.2 820.4L735.4 822.3L735.5 820.9L735.7 816.2L735.9 816.2L736.1 818.6L736.3 823.2L736.5 821.8L736.7 819.6L736.9 816.6L737.1 820.5L737.3 823.6L737.5 820.5L737.6 820.7L737.8 821.1L738 821.7L738.2 822.3L738.4 822.8L738.6 823.2L738.8 823.7L739 824.4L739.2 825.1L739.4 825.5L739.5 825.7L739.7 825.9L739.9 824.2L740.1 821.8L740.3 817.4L740.5 806.7L740.7 787.7L740.9 777L741.1 787.4L741.3 806.9L741.5 811.1L741.6 791.3L741.8 779.2L742 791L742.2 810.8L742.4 820.9L742.6 823.9L742.8 824.8L743 825.5L743.2 826.2L743.4 826.5L743.5 826.9L743.7 826.9L743.9 826L744.1 825L744.3 825.4L744.5 826.8L744.7 828.1L744.9 827.9L745.1 827.7L745.3 827.3L745.5 826.8L745.6 826.2L745.8 825.7L746 825.2L746.2 824.9L746.4 825.5L746.6 826L746.8 826.6L747 827.3L747.2 828L747.4 826.9L747.5 825.8L747.7 825.7L747.9 827.1L748.1 828.5L748.3 829.1L748.5 829.6L748.7 829.8L748.9 829.3L749.1 828.4L749.3 826L749.5 820.3L749.6 810.2L749.8 799.9L750 795.4L750.2 800.5L750.4 811.2L750.6 821.8L750.8 827L751 828.7L751.2 829L751.4 828.7L751.5 828.4L751.7 828.9L751.9 829.8L752.1 830.7L752.3 830.3L752.5 830L752.7 829.4L752.9 828.4L753.1 827.5L753.3 827.2L753.5 827.1L753.6 827.2L753.8 827.9L754 828.6L754.2 828.9L754.4 828.9L754.6 828.9L754.8 829.1L755 829.4L755.2 829.8L755.4 830.4L755.5 830.4L755.7 828.6L755.9 826.2L756.1 825.1L756.3 826.4L756.5 829.1L756.7 830.1L756.9 829.4L757.1 827.9L757.3 828.4L757.5 828.8L757.6 828.8L757.8 828.3L758 827.8L758.2 829.2L758.4 831L758.6 832.2L758.8 831L759 829.7L759.2 828.8L759.4 827.1L759.5 822.7L759.7 816.5L759.9 813.5L760.1 816.4L760.3 822.6L760.5 828L760.7 829.2L760.9 828.5L761.1 827.9L761.3 829.7L761.5 831.5L761.6 831.6L761.8 830.7L762 829.8L762.2 829.5L762.4 829.1L762.6 828.8L762.8 828.5L763 828.2L763.2 828.4L763.4 828.7L763.5 828.9L763.7 829L763.9 829.1L764.1 829L764.3 828.8L764.5 828.7L764.7 828.4L764.9 828.2L765.1 828.5L765.3 829.6L765.5 830.6L765.6 830.4L765.8 829.7L766 829.1L766.2 828.7L766.4 828.3L766.6 828.1L766.8 827.7L767 825.9L767.2 822.8L767.4 818.5L767.5 816.1L767.7 818.3L767.9 822.5L768.1 826.2L768.3 827.9L768.5 828.4L768.7 829L768.9 829.6L769.1 829.8L769.3 829.6L769.5 829.1L769.6 828.2L769.8 825.6L770 821.8L770.2 819.4L770.4 821L770.6 824.9L770.8 827.9L771 829.3L771.2 828.9L771.4 826.5L771.5 818.2L771.7 805.3L771.9 786.9L772.1 766.4L772.3 749.8L772.5 743.3L772.7 749.7L772.9 766.2L773.1 786.5L773.3 804.6L773.5 817.3L773.6 824.5L773.8 828.6L774 829.8L774.2 829.6L774.4 829.1L774.6 829.4L774.8 829.7L775 830L775.2 830.3L775.4 830.5L775.5 829.8L775.7 827.9L775.9 821L776.1 798.8L776.3 746.5L776.5 678.4L776.7 644.8L776.9 677.4L777.1 746L777.3 799.4L777.5 824.3L777.6 824L777.8 804.8L778 775.6L778.2 759.9L778.4 775.8L778.6 805.1L778.8 824.3L779 829.9L779.2 830.1L779.4 829.4L779.6 829.8L779.7 830.1L779.9 830.3L780.1 830.1L780.3 829.8L780.5 829.3L780.7 828.8L780.9 828.5L781.1 829.8L781.3 831.1L781.5 831.9L781.6 832.3L781.8 832.8L782 832.3L782.2 831.7L782.4 831.1L782.6 830.4L782.8 829.7L783 830.2L783.2 831.2L783.4 831.9L783.6 832L783.7 832L783.9 831.2L784.1 829.8L784.3 828.4L784.5 828.9L784.7 829.3L784.9 829.6L785.1 829.4L785.3 828.4L785.5 825.6L785.6 822.5L785.8 821.1L786 823.1L786.2 826.4L786.4 826.7L786.6 821.9L786.8 817.6L787 816.1L787.2 818.3L787.4 823.4L787.6 827.1L787.7 829.3L787.9 829.8L788.1 829.4L788.3 828.9L788.5 828.7L788.7 828.5L788.9 828.5L789.1 828.6L789.3 828.6L789.5 829.6L789.6 830.5L789.8 830.9L790 830.6L790.2 830.2L790.4 830.5L790.6 831L790.8 831.5L791 831.8L791.2 832.2L791.4 831.9L791.6 831.2L791.7 830.6L791.9 829.9L792.1 829.3L792.3 828.9L792.5 828.9L792.7 828.8L792.9 829L793.1 829.3L793.3 829L793.5 826.3L793.6 819.1L793.8 801.4L794 778.9L794.2 768.2L794.4 779.5L794.6 802.6L794.8 813.3L795 798.7L795.2 791.5L795.4 798.6L795.6 813.1L795.7 821.3L795.9 816.4L796.1 814.3L796.3 816.4L796.5 821.2L796.7 826.1L796.9 828.8L797.1 829.7L797.3 830L797.5 830.3L797.6 830.6L797.8 830.9L798 831.1L798.2 830.4L798.4 827L798.6 820.5L798.8 812.4L799 803.4L799.2 799.4L799.4 803.7L799.6 813L799.7 822.3L799.9 828.5L800.1 831.6L800.3 832.6L800.5 832.9L800.7 832.7L800.9 831.1L801.1 829.5L801.3 829.8L801.5 831.4L801.6 833L801.8 831.7L802 830.4L802.2 829.8L802.4 830L802.6 830.3L802.8 830.8L803 831.3L803.2 831.5L803.4 830.6L803.6 829.7L803.7 830.2L803.9 831.6L804.1 833.1L804.3 832.9L804.5 832.7L804.7 832.3L804.9 831.7L805.1 831.1L805.3 831.6L805.5 832.5L805.6 832.8L805.8 831.3L806 829.8L806.2 829.8L806.4 830.9L806.6 832L806.8 831.9L807 831.4L807.2 830.6L807.4 829.7L807.6 829.5L807.7 829.1L807.9 829L808.1 829.2L808.3 830.2L808.5 830.8L808.7 830.8L808.9 830.5L809.1 830.2L809.3 830.1L809.5 830.1L809.6 829.9L809.8 829.7L810 829.4L810.2 829.1L810.4 828.8L810.6 828.4L810.8 828.1L811 825.9L811.2 820.8L811.4 811.5L811.6 801.9L811.7 797.3L811.9 801.5L812.1 811.4L812.3 821.3L812.5 828.5L812.7 830.6L812.9 827.8L813.1 821.2L813.3 814L813.5 807.5L813.6 804.8L813.8 807.1L814 813L814.2 820.3L814.4 826.7L814.6 830.3L814.8 831.5L815 831.9L815.2 831.9L815.4 831.8L815.6 831.5L815.7 830.9L815.9 830.2L816.1 830.2L816.3 830.5L816.5 830.8L816.7 830.7L816.9 830.5L817.1 830.3L817.3 830L817.5 829.7L817.7 830.2L817.8 830.9L818 831.3L818.2 830.6L818.4 829.8L818.6 829.4L818.8 829.2L819 829L819.2 830.5L819.4 832.1L819.6 832.4L819.7 830.8L819.9 829.2L820.1 829.2L820.3 829.6L820.5 830.1L820.7 831.3L820.9 832.4L821.1 832.5L821.3 831.8L821.5 831L821.7 829.4L821.8 824.6L822 814.7L822.2 801.6L822.4 795.1L822.6 801.6L822.8 815L823 825.6L823.2 829.2L823.4 823L823.6 809.6L823.7 792.4L823.9 783.9L824.1 792.2L824.3 809.3L824.5 821.6L824.7 827.2L824.9 828.6L825.1 829.6L825.3 830.5L825.5 831.2L825.7 830.8L825.8 830.5L826 830.8L826.2 831.7L826.4 832.5L826.6 831.6L826.8 830.6L827 829.9L827.2 829.8L827.4 829.6L827.6 829.8L827.7 830.1L827.9 830.4L828.1 830.2L828.3 830.1L828.5 830.5L828.7 831.1L828.9 830.7L829.1 826.5L829.3 821.3L829.5 816.2L829.7 814L829.8 816.1L830 820.8L830.2 824.1L830.4 827.1L830.6 829.3L830.8 830.5L831 830.7L831.2 830.2L831.4 829.7L831.6 830.6L831.7 831.5L831.9 831.6L832.1 830.5L832.3 829.4L832.5 829.2L832.7 829.4L832.9 829.6L833.1 830.6L833.3 831.6L833.5 832.2L833.7 832.6L833.8 832.6L834 830.8L834.2 828.3L834.4 826L834.6 825L834.8 825.6L835 827.1L835.2 828.4L835.4 829.3L835.6 830.3L835.7 831L835.9 831.8L836.1 832.7L836.3 833.6L836.5 832.1L836.7 830.6L836.9 830.3L837.1 831.7L837.3 833.1L837.5 832.3L837.7 830.9L837.8 830L838 830.8L838.2 830.6L838.4 827.8L838.6 823.6L838.8 820.9L839 822.4L839.2 825.5L839.4 828.5L839.6 831.1L839.7 832.7L839.9 832.6L840.1 831.7L840.3 829.6L840.5 825.6L840.7 820.4L840.9 816.4L841.1 814.6L841.3 816L841.5 819.8L841.7 823.1L841.8 826.5L842 828.7L842.2 829.9L842.4 829.9L842.6 829.5L842.8 829.3L843 830.2L843.2 831L843.4 830.8L843.6 830L843.7 829L843.9 830.5L844.1 831.4L844.3 830.8L844.5 828.1L844.7 825.3L844.9 823.7L845.1 824.2L845.3 826.3L845.5 829.2L845.7 831.2L845.8 831.6L846 831L846.2 830.2L846.4 830.4L846.6 830.5L846.8 830.7L847 831L847.2 831.2L847.4 830.7L847.6 830.1L847.7 829.7L847.9 830.3L848.1 830.8L848.3 831.3L848.5 831.8L848.7 832.3L848.9 832.1L849.1 832L849.3 831.6L849.5 830.7L849.7 829.8L849.8 829.6L850 829.5L850.2 829.6L850.4 830.9L850.6 832.3L850.8 832.1L851 830.8L851.2 829.6L851.4 829.3L851.6 828.8L851.8 828L851.9 826.7L852.1 824.2L852.3 820.9L852.5 819.3L852.7 820.9L852.9 824.9L853.1 829.1L853.3 831.1L853.5 831.4L853.7 831.1L853.8 831.2L854 831.3L854.2 831.3L854.4 831.1L854.6 830.9L854.8 831.7L855 832.8L855.2 833.3L855.4 831.6L855.6 829.8L855.8 829.6L855.9 830.4L856.1 831.3L856.3 831.5L856.5 831.7L856.7 831.6L856.9 830.8L857.1 830L857.3 830.2L857.5 830.7L857.7 831.1L857.8 831.2L858 831.4L858.2 831.2L858.4 830.8L858.6 830.4L858.8 831.6L859 832.8L859.2 833.2L859.4 832.3L859.6 831.4L859.8 831.4L859.9 831.6L860.1 831.6L860.3 830.6L860.5 829.5L860.7 829.2L860.9 829.2L861.1 829.2L861.3 830L861.5 829.7L861.7 826.9L861.8 821.8L862 819.5L862.2 821.8L862.4 827.3L862.6 831.1L862.8 832L863 831.9L863.2 830.8L863.4 828.7L863.6 824.9L863.8 820.8L863.9 819.8L864.1 820.8L864.3 825.6L864.5 829.5L864.7 831.3L864.9 832L865.1 832.3L865.3 832.6L865.5 832.8L865.7 832.4L865.8 831.6L866 830.8L866.2 830.1L866.4 828.3L866.6 823.8L866.8 816L867 811L867.2 816.3L867.4 824.9L867.6 829L867.8 831.6L867.9 833.2L868.1 833.6L868.3 833.2L868.5 832.9L868.7 832.5L868.9 831.3L869.1 828.5L869.3 826.3L869.5 826.8L869.7 829.5L869.8 831.4L870 832.2L870.2 832.2L870.4 832.2L870.6 831.8L870.8 831.3L871 830.8L871.2 831.8L871.4 832.8L871.6 832.9L871.8 831.7L871.9 830.5L872.1 831.2L872.3 832.4L872.5 833.1L872.7 832.4L872.9 831.5L873.1 831.1L873.3 830.6L873.5 829.6L873.7 828.2L873.8 827.6L874 828.1L874.2 829L874.4 829.9L874.6 830.8L874.8 831.4L875 831.7L875.2 831.9L875.4 832L875.6 832L875.8 831.9L875.9 831.9L876.1 831.6L876.3 831.4L876.5 831.6L876.7 832.3L876.9 833L877.1 833L877.3 832.9L877.5 832.5L877.7 831.1L877.8 828.9L878 826.4L878.2 824.2L878.4 823.2L878.6 824.4L878.8 826.8L879 828.9L879.2 829.6L879.4 829.6L879.6 830L879.8 830.5L879.9 830.8L880.1 830.3L880.3 829.9L880.5 830.4L880.7 831.6L880.9 832.8L881.1 831.8L881.3 830.8L881.5 830.2L881.7 830.1L881.8 830L882 829.8L882.2 829.6L882.4 829.7L882.6 830.8L882.8 831.9L883 832.4L883.2 832.4L883.4 832.4L883.6 831.2L883.8 830.1L883.9 829.9L884.1 831.2L884.3 832.5L884.5 831.3L884.7 828.7L884.9 825.1L885.1 822.1L885.3 820.8L885.5 823.3L885.7 827.9L885.8 831.8L886 832.7L886.2 832.8L886.4 832.4L886.6 831.5L886.8 830.5L887 831.1L887.2 832L887.4 832.7L887.6 833L887.8 833.3L887.9 832.6L888.1 831.2L888.3 829.5L888.5 829.3L888.7 828L888.9 825.4L889.1 823.3L889.3 824L889.5 827.6L889.7 831L889.9 832.9L890 832.6L890.2 832.2L890.4 831.6L890.6 831.1L890.8 830.6L891 831.8L891.2 833.1L891.4 833.7L891.6 833.4L891.8 833L891.9 832.2L892.1 831L892.3 829.4L892.5 827.1L892.7 824.3L892.9 822.9L893.1 824L893.3 826.2L893.5 829.7L893.7 832.2L893.9 833.1L894 832.4L894.2 831.6L894.4 831.1L894.6 830.6L894.8 830.3L895 830.8L895.2 831.3L895.4 831.3L895.6 830.9L895.8 830.6L895.9 831.5L896.1 832.5L896.3 833.1L896.5 833.4L896.7 833.6L896.9 833.6L897.1 833.5L897.3 833.5L897.5 833.6L897.7 833.7L897.9 833.2L898 832.2L898.2 831.3L898.4 831.3L898.6 831.3L898.8 830.9L899 829.6L899.2 826.7L899.4 822.9L899.6 818.5L899.8 816.7L899.9 818.7L900.1 824.2L900.3 828.5L900.5 831.3L900.7 832.5L900.9 831.7L901.1 830.5L901.3 829.1L901.5 827L901.7 822.6L901.9 818.8L902 816.3L902.2 819L902.4 824.8L902.6 830.5L902.8 833L903 833.5L903.2 833.7L903.4 832L903.6 830.3L903.8 829.7L903.9 830.6L904.1 831.4L904.3 830.7L904.5 828.4L904.7 824.4L904.9 820.5L905.1 818.5L905.3 820.9L905.5 825.9L905.7 829.5L905.9 831L906 831.4L906.2 831.5L906.4 831.7L906.6 831.9L906.8 831.6L907 831.3L907.2 831.3L907.4 832.4L907.6 833.5L907.8 833.2L907.9 831.9L908.1 830.6L908.3 830.3L908.5 830L908.7 830.4L908.9 831.6L909.1 832.9L909.3 832.7L909.5 832.2L909.7 831.7L909.9 831.1L910 830.6L910.2 830.8L910.4 831.4L910.6 832L910.8 832.4L911 832.8L911.2 833.1L911.4 833.2L911.6 833.2L911.8 832.7L911.9 832L912.1 831.7L912.3 832.6L912.5 833.6L912.7 833L912.9 831.3L913.1 829.6L913.3 829.6L913.5 829.2L913.7 828.2L913.9 826.6L914 824.8L914.2 823.8L914.4 824.3L914.6 826.1L914.8 828.4L915 830L915.2 831L915.4 831.6L915.6 832L915.8 831.7L915.9 831.3L916.1 831.2L916.3 831.3L916.5 831.5L916.7 830.8L916.9 829.9L917.1 829.3L917.3 829.6L917.5 829.9L917.7 830.7L917.9 831.6L918 831.9L918.2 828.1L918.4 822L918.6 814.4L918.8 810.9L919 814.6L919.2 822L919.4 826.9L919.6 829.3L919.8 830L919.9 830.1L920.1 830.5L920.3 831.3L920.5 832.1L920.7 831.1L920.9 830.2L921.1 829.6L921.3 829.6L921.5 829.4L921.7 829.1L921.9 828.5L922 827.8L922.2 827.3L922.4 827.5L922.6 828.4L922.8 829.4L923 829.9L923.2 830.9L923.4 831.6L923.6 831.8L923.8 831.2L923.9 830.6L924.1 831.5L924.3 832.7L924.5 833.6L924.7 833.1L924.9 832.6L925.1 832.3L925.3 832L925.5 831.8L925.7 832.6L925.9 833.5L926 833.8L926.2 833.1L926.4 832.5L926.6 831.9L926.8 831.4L927 830.9L927.2 831L927.4 831L927.6 831.5L927.8 832.2L928 832.9L928.1 831.6L928.3 830.2L928.5 829.6L928.7 830.2L928.9 830.7L929.1 831.3L929.3 831.9L929.5 832.3L929.7 831.7L929.9 831.1L930 830.8L930.2 830.8L930.4 830.3L930.6 829.5L930.8 828.6L931 828.3L931.2 829L931.4 830.3L931.6 830.3L931.8 829.7L932 829.2L932.1 830L932.3 830.7L932.5 830.9L932.7 830.7L932.9 830.6L933.1 830.3L933.3 829.6L933.5 827.9L933.7 825.3L933.9 822.6L934 823L934.2 825.8L934.4 829.3L934.6 830.4L934.8 830.7L935 830.7L935.2 830.6L935.4 830.5L935.6 831.4L935.8 832.3L936 832.7L936.1 832.5L936.3 832.2L936.5 832.7L936.7 833.3L936.9 833.8L937.1 833.5L937.3 833.3L937.5 833L937.7 832.6L937.9 832.3L938 832.8L938.2 833.3L938.4 833.5L938.6 833.2L938.8 833L939 831.9L939.2 830.7L939.4 829.8L939.6 830.5L939.8 831.1L940 831.5L940.1 831.5L940.3 831.6L940.5 830.5L940.7 829.3L940.9 828.4L941.1 828.5L941.3 829L941.5 828.8L941.7 828.6L941.9 828.7L942 829.8L942.2 830.7L942.4 830.8L942.6 830.5L942.8 830.1L943 831.5L943.2 832.9L943.4 833.4L943.6 832.4L943.8 831.4L944 830.9L944.1 830.6L944.3 830.4L944.5 831.3L944.7 831.9L944.9 830.6L945.1 828.6L945.3 827.3L945.5 829.5L945.7 831.7L945.9 832.8L946 832.5L946.2 831.9L946.4 832.3L946.6 832.9L946.8 833.2L947 832.6L947.2 832L947.4 831.6L947.6 831.4L947.8 831.1L948 832.2L948.1 833.2L948.3 833.2L948.5 831.5L948.7 829.8L948.9 830.3L949.1 831.3L949.3 832.1L949.5 831.9L949.7 831.6L949.9 831.5L950 831.4L950.2 831.2L950.4 831.7L950.6 832.1L950.8 832.4L951 832.2L951.2 831.1L951.4 828.1L951.6 825.9L951.8 826.9L952 829.5L952.1 831L952.3 831.7L952.5 832.3L952.7 832.8L952.9 832L953.1 831.1L953.3 831L953.5 831.8L953.7 832.6L953.9 833.2L954 833.7L954.2 834L954.4 833.6L954.6 833.2L954.8 833.2L955 833.6L955.2 834L955.4 833.8L955.6 833.5L955.8 833L956 831.8L956.1 830.7L956.3 831L956.5 831.7L956.7 832L956.9 830.9L957.1 829.6L957.3 828.9L957.5 828.7L957.7 828.7L957.9 830.3L958 832.1L958.2 832.7L958.4 831.3L958.6 829.6L958.8 829.4L959 829.5L959.2 829.9L959.4 831.5L959.6 833.2L959.8 832.9L960 831.3L960.1 829.7L960.3 830.6L960.5 831.5L960.7 832.1L960.9 832L961.1 831.9L961.3 831.1L961.5 830.2L961.7 829.7L961.9 831.1L962 832.5L962.2 832.7L962.4 832.1L962.6 831.5L962.8 830.5L963 829.3L963.2 828.1L963.4 827.5L963.6 826.9L963.8 827L964 827.9L964.1 829L964.3 829.1L964.5 829L964.7 829.2L964.9 829.8L965.1 830.2L965.3 830.6L965.5 831L965.7 831.6L965.9 832.5L966 833.5" fill="none" stroke="#000" stroke-width="1.2" stroke-linejoin="round"/>
<g class="serif b" font-size="7.6" fill="#222" text-anchor="middle">
<text x="776.2" y="633.4">A</text>
<text x="769.5" y="667.6">A</text>
<text x="767.5" y="736.9">A</text>
<text x="782.5" y="754.4">A</text>
<text x="734.2" y="769.6">A</text>
<text x="741.2" y="769.6">A</text>
<text x="726.2" y="786.9">A</text>
<text x="749" y="788.9">A</text>
<text x="790.8" y="783.1">A</text>
<text x="811" y="788.4">A</text>
<text x="826.8" y="780.1">A</text>
<text x="964.2" y="656.4">A</text>
</g>
<text class="serif b" font-size="12" fill="#111" x="900.5" y="644.3">A:K<tspan font-size="6.5" dy="4.5">2</tspan><tspan dy="-4.5">FeO</tspan><tspan font-size="6.5" dy="4.5">4</tspan></text>
<text class="serif" font-size="11.5" fill="#111" stroke="#111" stroke-width="0.2" x="816" y="910" text-anchor="middle" textLength="29.5" lengthAdjust="spacingAndGlyphs">2theta</text>
<g stroke="#000" stroke-width="3.9" fill="none" stroke-linecap="butt">
<path d="M167.5 21.5H1003.0V1215"/>
<path d="M184.0 19.6V1215"/>
<path d="M167.5 609.7H1003.0"/>
<path d="M176 1198.5H1003.0"/>
<path d="M167.5 556.1H184.0M167.5 1144.9H184.0M175.4 502.6H184.0M175.4 1091.2H184.0M167.5 449.1H184.0M167.5 1037.6H184.0M175.4 395.6H184.0M175.4 984H184.0M167.5 342.1H184.0M167.5 930.3H184.0M175.4 288.6H184.0M175.4 876.7H184.0M167.5 235.2H184.0M167.5 823H184.0M175.4 181.7H184.0M175.4 769.4H184.0M167.5 128.2H184.0M167.5 715.7H184.0M175.4 74.7H184.0M175.4 662.1H184.0M265.7 609.7V618M265.7 1198.5V1206.8M347.7 609.7V626.2M347.7 1198.5V1215M429.6 609.7V618M429.6 1198.5V1206.8M511.5 609.7V626.2M511.5 1198.5V1215M593.4 609.7V618M593.4 1198.5V1206.8M675.4 609.7V626.2M675.4 1198.5V1215M757.3 609.7V618M757.3 1198.5V1206.8M839.2 609.7V626.2M839.2 1198.5V1215M921.1 609.7V618M921.1 1198.5V1206.8"/>
</g>
<g class="sans" font-size="36.4" fill="#000" lengthAdjust="spacingAndGlyphs">
<text x="137.1" y="566.8" textLength="19.1" lengthAdjust="spacingAndGlyphs">0</text>
<text x="137.1" y="1155.6" textLength="19.1" lengthAdjust="spacingAndGlyphs">0</text>
<text x="98.9" y="459.8" textLength="57.3" lengthAdjust="spacingAndGlyphs">200</text>
<text x="98.9" y="1048.3" textLength="57.3" lengthAdjust="spacingAndGlyphs">200</text>
<text x="98.9" y="352.8" textLength="57.3" lengthAdjust="spacingAndGlyphs">400</text>
<text x="98.9" y="941" textLength="57.3" lengthAdjust="spacingAndGlyphs">400</text>
<text x="98.9" y="245.9" textLength="57.3" lengthAdjust="spacingAndGlyphs">600</text>
<text x="98.9" y="833.7" textLength="57.3" lengthAdjust="spacingAndGlyphs">600</text>
<text x="98.9" y="138.9" textLength="57.3" lengthAdjust="spacingAndGlyphs">800</text>
<text x="98.9" y="726.4" textLength="57.3" lengthAdjust="spacingAndGlyphs">800</text>
<text x="79.8" y="31.9" textLength="76.4" lengthAdjust="spacingAndGlyphs">1000</text>
<text x="79.8" y="619.1" textLength="76.4" lengthAdjust="spacingAndGlyphs">1000</text>
<rect x="80.5" y="28" width="7.4" height="4.6" fill="#fff"/><rect x="91.7" y="28" width="6.8" height="4.6" fill="#fff"/>
<rect x="80.5" y="615.2" width="7.4" height="4.6" fill="#fff"/><rect x="91.7" y="615.2" width="6.8" height="4.6" fill="#fff"/>
<text x="164.7" y="1254.6" textLength="38.2" lengthAdjust="spacingAndGlyphs">20</text>
<text x="328.6" y="1254.6" textLength="38.2" lengthAdjust="spacingAndGlyphs">25</text>
<text x="492.4" y="1254.6" textLength="38.2" lengthAdjust="spacingAndGlyphs">30</text>
<text x="656.3" y="1254.6" textLength="38.2" lengthAdjust="spacingAndGlyphs">35</text>
<text x="820.1" y="1254.6" textLength="38.2" lengthAdjust="spacingAndGlyphs">40</text>
<text x="984" y="1254.6" textLength="38.2" lengthAdjust="spacingAndGlyphs">45</text>
</g>
<path d="M184.2 449L187.5 441L190 440L193.8 455.5L196.8 441.2L200 446.8L203.2 432.5L205 400L206.5 361.2L208.2 382.5L210 405L211.8 387.5L213.2 370L215 400L216.8 430L218.2 450L219.8 465L222.8 461.2L226.2 468L229.5 480L232.5 476.2L236 478L239.2 475.8L242.5 486.2L245.5 482.5L248.8 479.2L252 481.2L255 482.5L258.5 487.5L262 482.5L265.2 493L268.5 487.5L271.8 496.2L275 493.8L278.2 487.5L280.2 480L282 470L283.2 425L284.5 370L285.8 323L287.5 370L289.2 425L291.5 483.8L294.5 493.8L297.5 500L301.2 508.8L304.2 502.5L307.5 511.8L311 500L314.2 501.8L317.5 500L320.8 505L324.2 511.2L327.5 508.2L330.8 505.5L334 501.2L337.5 486.2L340.8 497.5L344 515L347 507L350.5 507L353.8 513L357 512.5L360 508.8L363.5 500L367 497L370 470L373.2 429.5L375.8 470L377.5 500L379.5 516.8L383 512L388 511.8L392.5 505.5L396.5 507.5L400 485L403.2 454.2L405 490L406.2 512.5L409.5 518.8L413 519.5L416.2 513.8L419.5 510.8L423 515.5L426.5 517.5L429.5 515L432.5 505L435 487.5L437.5 485L439.5 483.8L441.8 516.2L445.5 514.5L448.8 511.2L452.5 523L455 508.8L458.8 506.2L462 508.8L465.5 516.2L468.8 507.5L472 485L473.8 425L475 355L477.5 317.5L481.8 305.5L483 350L484.2 425L485.5 470L488.8 514.2L492 518.8L495.5 524.2L498.8 517.5L502 508.8L505 512.5L508 490L510.5 437.5L512.5 350L514.4 224.2L517.5 350L519.2 450L521.8 497.5L524.5 485L526.2 437.5L528.2 379.5L530 437.5L531.8 475L534.5 516.2L538 515L541.2 512.5L544.2 524.5L547.5 497.5L550.8 473.2L553 500L555 520L557.5 528.2L561 520L564.2 521.2L567.5 527.5L570.8 528.8L574 507.5L577 490.8L580 497.5L583 521.2L586.8 519.5L590 523L593.8 523.8L597 528.8L600 515L603 498L606 522L609 523L612.5 532.5L616.2 530L619.5 530.5L622.8 535.5L626.2 525.8L629.5 533.8L632.8 527.5L636.2 526.2L640 525L643.8 532L646.5 535L649.5 531.2L653 533.8L656.2 535.8L659.5 527.5L662.5 507.5L665 445L669.2 444.5L672 493.8L675 478.8L678.2 516.2L680 517L682.5 518.8L685.5 523.8L688.8 538.8L691.8 529.5L695 538.8L698 532.5L701.2 531.8L705 527L707 487.5L708.8 425L711 349.5L713 412.5L715.5 487.5L717.5 530L721.2 535L724.5 533.8L728 538.8L731.2 535L734.5 534.5L738 538.8L740.5 532.5L743.8 535L747.5 532L750.8 543L754 541.2L757.2 538.8L760.5 545L763.8 535L767 540L770.2 540L773.5 533.8L777 539.5L780 535L783.2 527L786.5 535L790 542L793 525L796.2 513.2L799.5 532L803 536.2L806.5 540.8L809.5 512.5L813 475L815.8 400L818 445L820.5 487.5L822.8 518L825.8 489.5L829.2 491.2L832.5 507L836 483.8L838.8 505L842.5 541.2L845.8 537L849 535.8L852.5 544.2L855.5 533.8L858.8 538.8L862 544.2L864 541.7L866.4 537.8L868.7 536.5L871.8 537L875 540.1L878.4 542.2L881.6 535.1L884.4 540.4L888.3 542L891 539L894.6 542.8L897.8 541.7L900.9 538.6L904 527.6L905.1 521.3L906.1 497.7L907.6 461.9L911.1 486.8L913.9 516.6L917.7 522.9L919.3 482L921.3 444.1L924.4 467.9L927.6 511.1L930.7 526.8L934.2 522.5L937.3 538.6L940.1 542.8L943.7 539.8L947.2 547.2L950 536.2L953.2 544.1L956.6 534.6L960.1 534.2L963.7 540.4L966.8 526.8L970.3 492.2L974.4 505.6L976.2 540.9L980.2 540.9L983.3 546.4L987.2 545.9L990.4 546.4L995.6 544.8L998.2 541.7L1000.6 535.4L1002.5 528.4" fill="none" stroke="#000" stroke-width="3.6" stroke-linejoin="round" stroke-linecap="butt"/>
<path d="M184 1115.8L191.2 1116.2L197 1117.5L200.5 1111.2L203.8 1113.8L207 1107.5L209.5 1070L211.2 1032.5L213 1003.8L215 1025L217 1042L218.8 1020L220 1005L221.5 1045L223 1106.2L226.2 1117.5L230 1125L233.2 1123L236.5 1116.2L239.5 1127L242.5 1125L245.8 1125.5L249.2 1117L252.5 1128.8L255.8 1122L259 1127.5L262.5 1122.5L265.8 1126.2L269 1123.8L272.5 1123.8L275.8 1127.5L279 1125.5L282.5 1124.2L285.8 1118.8L288 1095L290 1070L292 1045L294 1070L296.2 1102.5L298.8 1121.2L302 1133.2L305 1127.5L308.2 1127.5L311.5 1128.2L315 1132.5L318.2 1135L321.5 1124.5L325 1132.5L328.2 1124.5L331.5 1127.5L335 1128.2L338.2 1130L341.2 1120L344.5 1110L347.5 1125L350.8 1130.8L354 1126.8L357.5 1133L360.8 1132L364 1132.5L367.5 1130L370.5 1121.2L373.8 1117.5L377 1088.8L380 1117.5L383 1132.5L386.8 1132L390.5 1127.5L393.8 1129.5L397 1128.2L400.5 1130L403.8 1131.2L407 1127.5L410 1126.8L413.5 1131.2L416.8 1133.2L420 1132.5L423 1127L426.2 1131.2L429.5 1127.5L430 1127.5L433.8 1125L439.5 1123.8L442.5 1095L445.8 1107.5L448.8 1128.8L452 1127.5L455.5 1131.2L458.8 1125L462.5 1116.2L465.8 1102L468.8 1121.2L472.5 1126.2L475.5 1121.2L478.8 1087.5L480.8 1020L482 941.2L485.5 926.2L488.8 955L490.8 1045L492.5 1106.2L495.5 1125.5L498.8 1123.8L502 1125L505 1123.2L508.2 1127L511.5 1112.5L514 1070L515.8 970L517.6 870L518.5 850L521.2 689L523 850L523.3 900L524.5 1032.5L528 1098L531.2 1032.5L534.5 963L536.2 1020L538 1090L540.8 1121.2L544.2 1125L547 1132.5L550.8 1130.5L553.8 1132L557 1129.5L560.5 1127.5L564.2 1125.5L567 1132L570.5 1133L573.8 1136.8L577 1131.2L580.8 1134.2L583.8 1133.2L586.8 1126.2L590 1128.2L593.2 1116.2L596.2 1121.8L600 1124.5L603.2 1104.5L606.5 1105L610 1096.2L613.2 1115L616.2 1131.8L620 1132L625 1131.2L630 1130.5L633 1133.2L636.2 1128.8L639.5 1132L643 1125.5L646.2 1123L649.2 1133.8L653 1132.5L656.2 1130.5L659.5 1128.8L662.5 1125L665.5 1123L668.8 1082.5L672 981.2L675.5 1050L678.2 1038L682.5 1075L685 1106.2L688.8 1095.8L691.2 1122.5L694.5 1132L698 1131.8L701.2 1136.2L705 1133.2L708.2 1129.5L711.2 1115L713.8 1058L717.5 1063.8L719.5 1095L721.2 1115L724.5 1128.8L728 1130L731.2 1134.2L734.5 1127.5L738 1128L741.2 1131.2L744.5 1133.2L748 1133.2L750.8 1127.5L754.2 1128L757.5 1134.2L760.5 1131.2L763.8 1133.2L767 1135L770.5 1136.2L773.8 1133.2L777 1134.5L780 1134.5L783.2 1133.8L786.8 1121.8L790 1125.5L793 1135L796.2 1136.2L799.5 1136.2L803 1136.8L806.2 1134.2L809.5 1135.8L813 1130L816.2 1117.5L819.2 1090L822.5 1052L825.8 1090L829.2 1113.8L832 1077.5L835.5 1081.2L839.2 1068.8L842.5 1075.5L845 1100L847 1117.5L849.2 1130L852.5 1130L855.8 1134.2L859 1135.5L862.5 1133L864 1133.1L868.4 1134.7L871.8 1137.8L874.7 1132.7L878.4 1132.7L881.7 1141.8L885.2 1137.4L889.1 1136.1L893 1135.3L897.8 1137.7L901.7 1134.5L904.8 1134.2L908 1128.7L910.8 1109.9L912.7 1078.5L914.5 1047.1L917.8 1086.3L920.8 1121.2L924.4 1109.9L926 1062.8L927.6 1020.4L931.2 1067.5L933.5 1124.8L936.7 1130L940.1 1131.4L944.1 1136.3L947.2 1137.8L950 1131.6L953.5 1132.7L956.9 1131.4L960.5 1136.1L964 1135.8L967.6 1131.9L970.4 1128.7L973.4 1098.6L976.6 1093.7L980.2 1109.9L982.5 1133.8L986.4 1135.3L990.1 1139.2L993.2 1135.3L997.1 1135.8L999.3 1129L1002.1 1129" fill="none" stroke="#000" stroke-width="3.6" stroke-linejoin="round" stroke-linecap="butt"/>
<g class="serif b" font-size="31.6" fill="#000" stroke="#000" stroke-width="0.35">
<text x="198.1" y="355" textLength="21.2" lengthAdjust="spacingAndGlyphs">A</text>
<text x="213.4" y="360.8" textLength="21.2" lengthAdjust="spacingAndGlyphs">A</text>
<text x="276.9" y="309.2" textLength="21.2" lengthAdjust="spacingAndGlyphs">A</text>
<text x="366.3" y="420.5" textLength="21.2" lengthAdjust="spacingAndGlyphs">A</text>
<text x="394.7" y="431.2" textLength="19.6" lengthAdjust="spacingAndGlyphs">B</text>
<text x="428.6" y="476.2" textLength="21.2" lengthAdjust="spacingAndGlyphs">A</text>
<text x="450.2" y="488.2" textLength="19.6" lengthAdjust="spacingAndGlyphs">B</text>
<text x="471.4" y="262.4" textLength="21.2" lengthAdjust="spacingAndGlyphs">C</text>
<text x="466.1" y="296.4" textLength="21.2" lengthAdjust="spacingAndGlyphs">A</text>
<text x="480.4" y="291.7" textLength="21.2" lengthAdjust="spacingAndGlyphs">A</text>
<text x="516.6" y="211.6" textLength="21.2" lengthAdjust="spacingAndGlyphs">A</text>
<text x="521.9" y="360" textLength="21.2" lengthAdjust="spacingAndGlyphs">A</text>
<text x="538.9" y="376.8" textLength="21.2" lengthAdjust="spacingAndGlyphs">A</text>
<text x="540.1" y="455.5" textLength="21.2" lengthAdjust="spacingAndGlyphs">C</text>
<text x="567.9" y="478.8" textLength="19.6" lengthAdjust="spacingAndGlyphs">B</text>
<text x="596.2" y="482.5" textLength="19.6" lengthAdjust="spacingAndGlyphs">B</text>
<text x="656.9" y="402.5" textLength="21.2" lengthAdjust="spacingAndGlyphs">A</text>
<text x="703.2" y="315.5" textLength="19.6" lengthAdjust="spacingAndGlyphs">B</text>
<text x="702.6" y="346.2" textLength="21.2" lengthAdjust="spacingAndGlyphs">A</text>
<text x="811.4" y="361.8" textLength="19.6" lengthAdjust="spacingAndGlyphs">B</text>
<text x="810.9" y="388.8" textLength="21.2" lengthAdjust="spacingAndGlyphs">A</text>
<text x="824.9" y="473.8" textLength="21.2" lengthAdjust="spacingAndGlyphs">A</text>
<text x="897.6" y="450.1" textLength="21.2" lengthAdjust="spacingAndGlyphs">A</text>
<text x="911.9" y="431.4" textLength="21.2" lengthAdjust="spacingAndGlyphs">A</text>
<text x="964.1" y="476" textLength="21.2" lengthAdjust="spacingAndGlyphs">A</text>
<text x="205.4" y="986.2" textLength="21.2" lengthAdjust="spacingAndGlyphs">A</text>
<text x="214.1" y="1000.5" textLength="21.2" lengthAdjust="spacingAndGlyphs">A</text>
<text x="285.9" y="1028.2" textLength="21.2" lengthAdjust="spacingAndGlyphs">A</text>
<text x="371.4" y="1070.5" textLength="21.2" lengthAdjust="spacingAndGlyphs">A</text>
<text x="434.6" y="1080" textLength="21.2" lengthAdjust="spacingAndGlyphs">A</text>
<text x="457.6" y="919.2" textLength="21.2" lengthAdjust="spacingAndGlyphs">A</text>
<text x="478.1" y="913.8" textLength="21.2" lengthAdjust="spacingAndGlyphs">A</text>
<text x="515.9" y="685.5" textLength="21.2" lengthAdjust="spacingAndGlyphs">A</text>
<text x="531.9" y="943" textLength="21.2" lengthAdjust="spacingAndGlyphs">A</text>
<text x="542.9" y="980" textLength="21.2" lengthAdjust="spacingAndGlyphs">A</text>
<text x="669.1" y="973.8" textLength="21.2" lengthAdjust="spacingAndGlyphs">A</text>
<text x="704.1" y="1031.2" textLength="21.2" lengthAdjust="spacingAndGlyphs">A</text>
<text x="814.9" y="1052" textLength="21.2" lengthAdjust="spacingAndGlyphs">A</text>
<text x="834.4" y="1061.8" textLength="21.2" lengthAdjust="spacingAndGlyphs">A</text>
<text x="906.7" y="1037.8" textLength="21.2" lengthAdjust="spacingAndGlyphs">A</text>
<text x="920" y="1014.1" textLength="21.2" lengthAdjust="spacingAndGlyphs">A</text>
<text x="971.3" y="1085.6" textLength="21.2" lengthAdjust="spacingAndGlyphs">A</text>
</g>
<g class="serif" font-style="italic" font-size="6" fill="#9a9a9a"><text x="835" y="540">A</text><text x="791" y="538.5">A</text></g>
<text class="serif b" font-size="36.5" fill="#000" stroke="#000" stroke-width="0.4" y="77.5"><tspan x="220.5" y="77.5">A:K</tspan><tspan x="289.6" y="92.1" font-size="19">2</tspan><tspan x="301.5" y="77.5">FeO</tspan><tspan x="370.8" y="92.1" font-size="19">4</tspan></text>
<text class="serif b" font-size="36.5" fill="#000" stroke="#000" stroke-width="0.4" x="220.5" y="127.5" textLength="190" lengthAdjust="spacing">B:FeO(OH)</text>
<text class="serif b" font-size="36.5" fill="#000" stroke="#000" stroke-width="0.4" y="173.8"><tspan x="220.8" y="173.8">C:K</tspan><tspan x="289.6" y="188.4" font-size="19">2</tspan><tspan x="301.5" y="173.8">O</tspan></text>
<text class="serif b" font-size="41" fill="#000" stroke="#000" stroke-width="0.4" y="716.3"><tspan x="218.2" y="716.3">A:K</tspan><tspan x="294.2" y="732.5" font-size="21">2</tspan><tspan x="307.2" y="716.3">FeO</tspan><tspan x="383.6" y="732.5" font-size="21">4</tspan></text>
<text class="serif b" font-size="42.5" fill="#000" transform="translate(34 715.5) rotate(-90)" textLength="149.5" lengthAdjust="spacingAndGlyphs">intensity</text>
<text class="serif" font-size="39" fill="#000" stroke="#000" stroke-width="0.45" y="1332"><tspan x="544.6">2 </tspan><tspan x="574.6" textLength="89.4" lengthAdjust="spacingAndGlyphs">theta</tspan></text>
</svg></body></html>
